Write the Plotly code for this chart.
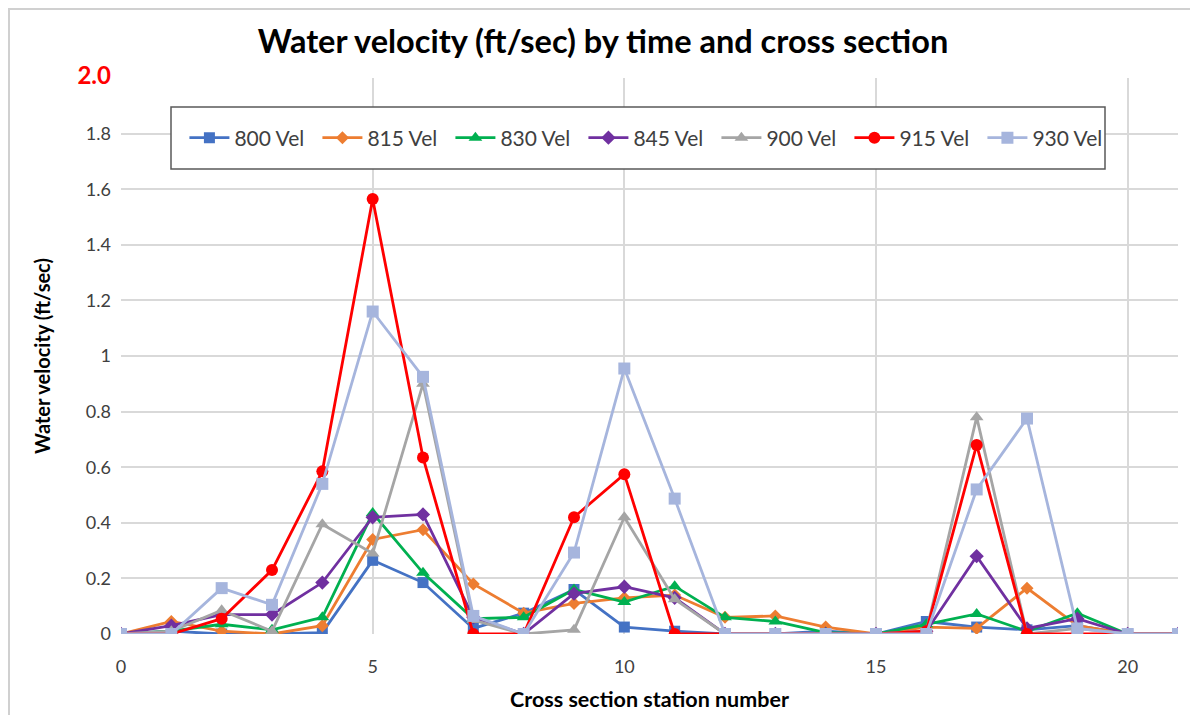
import plotly.graph_objects as go

# station numbers along the cross section
stations = list(range(0, 22))

vel_800 = [0, 0.01, 0, 0, 0.005, 0.265, 0.185, 0.02, 0.075, 0.16, 0.025, 0.01, 0, 0, 0.01, 0, 0.045, 0.025, 0.015, 0.03, 0, 0]
vel_815 = [0, 0.045, 0.01, 0, 0.03, 0.34, 0.375, 0.18, 0.075, 0.11, 0.13, 0.14, 0.06, 0.065, 0.025, 0, 0.025, 0.02, 0.165, 0.03, 0, 0]
vel_830 = [0, 0.01, 0.035, 0.015, 0.06, 0.435, 0.22, 0.055, 0.06, 0.16, 0.115, 0.172, 0.06, 0.045, 0.005, 0, 0.035, 0.072, 0.01, 0.075, 0, 0]
vel_845 = [0, 0.03, 0.07, 0.07, 0.185, 0.42, 0.43, 0.06, 0, 0.145, 0.17, 0.13, 0, 0, 0, 0, 0.01, 0.28, 0.02, 0.055, 0, 0]
vel_900 = [0, 0.01, 0.085, 0.01, 0.395, 0.29, 0.9, 0.05, 0, 0.015, 0.42, 0.125, 0, 0, 0, 0, 0.01, 0.78, 0, 0.02, 0, 0]
vel_915 = [0, 0, 0.055, 0.23, 0.585, 1.565, 0.635, 0, 0, 0.42, 0.575, 0, 0, 0, 0, 0, 0.01, 0.68, 0, 0, 0, 0]
vel_930 = [0, 0, 0.165, 0.105, 0.54, 1.16, 0.925, 0.065, 0, 0.293, 0.955, 0.487, 0, 0, 0, 0, 0, 0.52, 0.775, 0.02, 0, 0]

series_names = ['800 Vel', '815 Vel', '830 Vel', '845 Vel', '900 Vel', '915 Vel', '930 Vel']
series_vals = [vel_800, vel_815, vel_830, vel_845, vel_900, vel_915, vel_930]

y_ticks = [0, 0.2, 0.4, 0.6, 0.8, 1.0, 1.2, 1.4, 1.6, 1.8, 2.0]
y_ticktext = ['0', '0.2', '0.4', '0.6', '0.8', '1', '1.2', '1.4', '1.6', '1.8',
              '<b><span style="color:#FF0000;font-size:24px">2.0</span></b>']
x_ticks = [0, 5, 10, 15, 20]

colors = ['#4472C4', '#ED7D31', '#00B050', '#7030A0', '#A5A5A5', '#FF0000', '#A6B5DD']
symbols = ['square', 'diamond', 'triangle-up', 'diamond', 'triangle-up', 'circle', 'square']
msizes = [11, 10, 12, 11, 12, 12, 12]

FONT = 'Lato'
PW, PH = 1057, 556  # plot area size in px

fig = go.Figure()
for name, vals, c, s, ms in zip(series_names, series_vals, colors, symbols, msizes):
    fig.add_trace(go.Scatter(
        x=stations, y=vals, name=name, mode='lines+markers',
        line=dict(color=c, width=2.8),
        marker=dict(color=c, symbol=s, size=ms),
    ))

fig.update_layout(
    width=1190, height=707,
    margin=dict(l=113, r=20, t=70, b=81),
    paper_bgcolor='white', plot_bgcolor='white',
    font=dict(family=FONT, color='#404040', size=18),
    title=dict(text='<b>Water velocity (ft/sec) by time and cross section</b>',
               x=0.5, xanchor='center', y=1 - 34 / 707, yanchor='middle',
               font=dict(family=FONT, size=32.5, color='black')),
    legend=dict(orientation='h', x=0.06, y=1 - 60 / PH, xanchor='left', yanchor='middle',
                bgcolor='rgba(0,0,0,0)', borderwidth=0,
                font=dict(family=FONT, size=21, color='#404040'),
                itemwidth=40, entrywidth=78, entrywidthmode='pixels'),
    xaxis=dict(range=[0, 21], tickvals=x_ticks, showgrid=True, gridcolor='#D9D9D9', gridwidth=1.5,
               zeroline=False, showline=False, ticks='', ticklabelstandoff=20, automargin=False,
               title=dict(text='<b>Cross section station number</b>', font=dict(family=FONT, size=21.5, color='black'),
                          standoff=15)),
    yaxis=dict(range=[0, 2.0], tickvals=y_ticks, ticktext=y_ticktext, showgrid=True,
               gridcolor='#D9D9D9', gridwidth=1.5, zeroline=False, showline=False, ticks='',
               ticklabelstandoff=9, automargin=False,
               title=dict(text='<b>Water velocity (ft/sec)</b>', font=dict(family=FONT, size=20, color='black'),
                          standoff=21)),
    shapes=[
        # outer chart frame
        dict(type='rect', xref='paper', yref='paper',
             x0=-112 / PW, x1=(PW + 19) / PW, y0=-100 / PH, y1=1 + 69 / PH,
             line=dict(color='#D0D0D0', width=2), fillcolor='rgba(0,0,0,0)', layer='below'),
        # legend box
        dict(type='rect', xref='paper', yref='paper',
             x0=50 / PW, x1=984 / PW, y0=1 - 91 / PH, y1=1 - 29 / PH,
             line=dict(color='#595959', width=1.5), fillcolor='white', layer='above'),
    ],
)

fig.write_html("out.html")
